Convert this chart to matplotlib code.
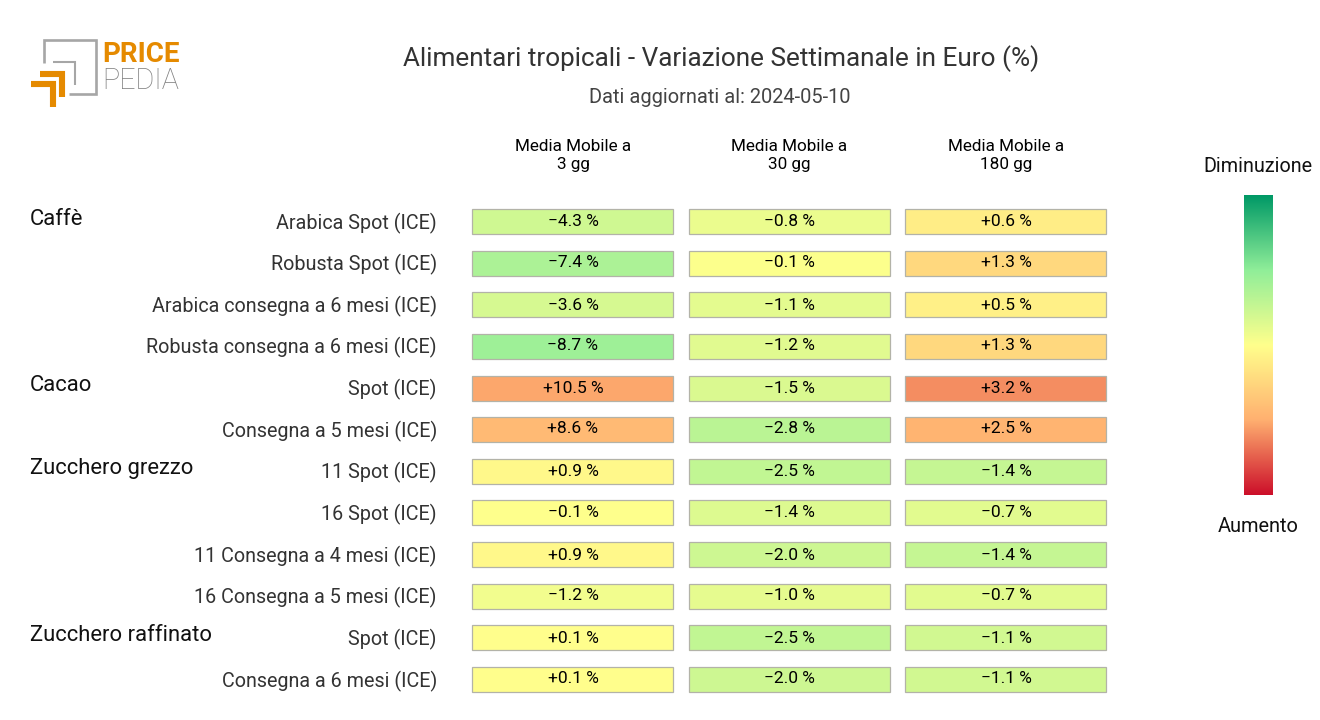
import numpy as np
import matplotlib
matplotlib.use("Agg")
import matplotlib.pyplot as plt
from matplotlib.colors import LinearSegmentedColormap, Normalize
from matplotlib.lines import Line2D

plt.rcParams['font.family'] = ['Roboto', 'DejaVu Sans']

title = "Alimentari tropicali - Variazione Settimanale in Euro (%)"
subtitle = "Dati aggiornati al: 2024-05-10"
columns = ["Media Mobile a\n3 gg", "Media Mobile a\n30 gg", "Media Mobile a\n180 gg"]
groups = {"Caffè": 0, "Cacao": 4, "Zucchero grezzo": 6, "Zucchero raffinato": 10}
rows = ["Arabica Spot (ICE)", "Robusta Spot (ICE)", "Arabica consegna a 6 mesi (ICE)",
        "Robusta consegna a 6 mesi (ICE)", "Spot (ICE)", "Consegna a 5 mesi (ICE)",
        "11 Spot (ICE)", "16 Spot (ICE)", "11 Consegna a 4 mesi (ICE)",
        "16 Consegna a 5 mesi (ICE)", "Spot (ICE)", "Consegna a 6 mesi (ICE)"]
ma3 = [-4.3, -7.4, -3.6, -8.7, 10.5, 8.6, 0.9, -0.1, 0.9, -1.2, 0.1, 0.1]
ma30 = [-0.8, -0.1, -1.1, -1.2, -1.5, -2.8, -2.5, -1.4, -2.0, -1.0, -2.5, -2.0]
ma180 = [0.6, 1.3, 0.5, 1.3, 3.2, 2.5, -1.4, -0.7, -1.4, -0.7, -1.1, -1.1]
series = [ma3, ma30, ma180]
color_scale = [20, 9, 5.3]

cmap = LinearSegmentedColormap.from_list(
    "pp", ["#cc0f2a", "#ffb070", "#ffff8c", "#90ee99", "#009966"])

W, H = 1320, 720
fig = plt.figure(figsize=(W / 100, H / 100), dpi=100, facecolor="white")

def box(l, t, r, b):
    return [l / W, 1 - b / H, (r - l) / W, (b - t) / H]

ax = fig.add_axes(box(464.7, 200.7, 1114.2, 700.3))
ax.set_xlim(-0.5, 2.5)
ax.set_ylim(len(rows) - 0.5, -0.5)
ax.axis("off")
for c, vals in enumerate(series):
    norm = Normalize(-color_scale[c], color_scale[c])
    y = np.arange(len(rows))
    ax.barh(y, [0.93] * len(rows), left=c - 0.466, height=0.6,
            color=[cmap(norm(-v)) for v in vals], edgecolor="#b3b3a8", linewidth=0.9)
    for i, v in zip(y, vals):
        s = f"{v:+.1f} %".replace("-", "\u2212")
        ax.annotate(s, (c, i), xytext=(0, -0.3 if i % 2 == 0 else 0.6), textcoords="offset points",
                    ha="center", va="center", fontsize=12.5, color="black")
    ax.annotate(columns[c], (c, 0), xytext=(0, 47.5), textcoords="offset points",
                ha="center", va="center", fontsize=12.3, color="black", linespacing=1.3)

for i, r in enumerate(rows):
    ax.annotate(r, (-0.5, i), xytext=(-20, -1.1), textcoords="offset points",
                ha="right", va="center", fontsize=14.2, color="#333333")
for g, i in groups.items():
    ax.annotate(g, (-0.5, i), xytext=(-313, 1.8), textcoords="offset points",
                ha="left", va="center", fontsize=15.8, color="#111111")

fig.text(721 / W, 1 - 59 / H, title, ha="center", va="center", fontsize=18.85, color="#333333")
fig.text(720 / W, 1 - 97.5 / H, subtitle, ha="center", va="center", fontsize=14.45, color="#444444")

cax = fig.add_axes(box(1244, 195, 1273, 495))
grad = np.linspace(1, 0, 256)[:, None]
cax.imshow(grad, aspect="auto", cmap=cmap, vmin=0, vmax=1)
cax.axis("off")
fig.text(1258 / W, 1 - 166.5 / H, "Diminuzione", ha="center", va="center", fontsize=14.2, color="#111111")
fig.text(1258 / W, 1 - 526.5 / H, "Aumento", ha="center", va="center", fontsize=14.4, color="#111111")

# logo
lax = fig.add_axes([0, 0, 1, 1], zorder=5)
lax.set_xlim(0, W)
lax.set_ylim(H, 0)
lax.axis("off")
lax.patch.set_alpha(0)
gray = "#a6a6a6"
orange = "#e58a00"
def logo_line(xs, ys, color, lw):
    lax.add_line(Line2D(xs, ys, color=color, lw=lw, solid_joinstyle="miter", solid_capstyle="butt"))
logo_line([43.5, 43.5, 96, 96, 69], [63, 39.5, 39.5, 94, 94], gray, 1.9)
logo_line([53, 74.5, 74.5], [62, 62, 85], gray, 1.5)
logo_line([40, 62, 62], [74, 74, 97], orange, 4.4)
logo_line([31, 53, 53], [84, 84, 107], orange, 4.4)
lax.text(102, 54, "PRICE", family=["Roboto", "DejaVu Sans"], fontsize=20, weight="bold", color=orange, ha="left", va="center")
lax.text(102, 81, "PEDIA", family=["Roboto", "DejaVu Sans"], fontsize=20.7, weight="light", color="#808080", ha="left", va="center")

fig.savefig("out.png", dpi=100, facecolor="white")
